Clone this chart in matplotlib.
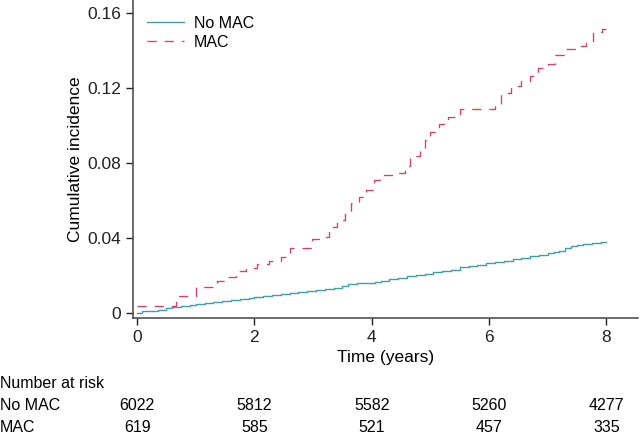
import matplotlib
matplotlib.use("Agg")
import matplotlib.pyplot as plt
from matplotlib.transforms import blended_transform_factory

plt.rcParams["font.family"] = ["Liberation Sans", "DejaVu Sans"]

# No MAC: cumulative incidence steps (time in years, value)
nomac_t = [0.0, 0.08, 0.2, 0.35, 0.5, 0.6, 0.75, 0.9, 1.0, 1.15, 1.3, 1.45, 1.6, 1.75,
           1.9, 2.0, 2.15, 2.3, 2.45, 2.6, 2.75, 2.9, 3.05, 3.2, 3.35, 3.5, 3.6, 3.75,
           3.9, 4.05, 4.15, 4.3, 4.45, 4.6, 4.75, 4.9, 5.05, 5.2, 5.35, 5.5, 5.65, 5.8,
           5.95, 6.1, 6.25, 6.4, 6.55, 6.7, 6.85, 7.0, 7.1, 7.2, 7.3, 7.4, 7.5, 7.6,
           7.75, 7.9, 8.0]
nomac_v = [0.0, 0.0009, 0.0011, 0.0013, 0.0022, 0.0028, 0.0034, 0.004, 0.0048, 0.0053,
           0.0058, 0.0063, 0.0068, 0.0072, 0.0077, 0.0082, 0.0087, 0.0093, 0.01, 0.0106,
           0.011, 0.0116, 0.0122, 0.0126, 0.0131, 0.0143, 0.0153, 0.0156, 0.016,
           0.0164, 0.0168, 0.018, 0.0186, 0.0194, 0.0201, 0.0208, 0.0216, 0.0223, 0.023,
           0.0241, 0.025, 0.0256, 0.0263, 0.027, 0.0277, 0.0285, 0.0293, 0.0301,
           0.0308, 0.0316, 0.0323, 0.0331, 0.0343, 0.0354, 0.036, 0.0366, 0.037,
           0.0376, 0.0378]

# MAC: cumulative incidence steps
mac_t = [0.0, 0.66, 1.0, 1.36, 1.52, 1.68, 1.85, 2.04, 2.25, 2.45, 2.6, 2.98, 3.2,
         3.27, 3.4, 3.55, 3.64, 3.78, 3.9, 4.03, 4.17, 4.4, 4.57, 4.66, 4.83, 4.9,
         5.0, 5.14, 5.3, 5.5, 6.1, 6.2, 6.37, 6.54, 6.7, 6.84, 7.0, 7.13, 7.3, 7.49,
         7.66, 7.78, 7.92, 8.0]
mac_v = [0.0035, 0.0088, 0.0137, 0.017, 0.0192, 0.0222, 0.0238, 0.0262, 0.0278, 0.0295,
         0.0345, 0.0392, 0.0405, 0.0455, 0.0495, 0.0535, 0.0585, 0.0615, 0.0655, 0.071,
         0.0735, 0.0745, 0.0785, 0.0835, 0.087, 0.092, 0.0965, 0.1005, 0.1045, 0.1085,
         0.1115, 0.1175, 0.121, 0.1235, 0.1265, 0.1305, 0.133, 0.1375, 0.141, 0.1425,
         0.1443, 0.15, 0.1517, 0.1517]

risk_times = [0, 2, 4, 6, 8]
risk_nomac = [6022, 5812, 5582, 5260, 4277]
risk_mac = [619, 585, 521, 457, 335]

teal = "#3f9ea8"
red = "#d83f62"

fig = plt.figure(figsize=(6.4, 4.33), dpi=100)
ax = fig.add_axes([0.208, 0.266, 0.789, 0.734])

ax.step(nomac_t, nomac_v, where="post", color=teal, lw=1.0, label="No MAC")
ax.step(mac_t, mac_v, where="post", color=red, lw=0.95, dashes=(7, 6), label="MAC")

ax.set_xlim(-0.068, 8.54)
ax.set_ylim(-0.0028, 0.167)
ax.set_xticks([0, 2, 4, 6, 8])
ax.set_yticks([0, 0.04, 0.08, 0.12, 0.16])
ax.set_yticklabels(["0", "0.04", "0.08", "0.12", "0.16"])
ax.tick_params(direction="out", length=5, width=1, labelsize=12.5, colors="#222222")
for s in ["top", "right"]:
    ax.spines[s].set_visible(False)
for s in ["left", "bottom"]:
    ax.spines[s].set_color("#444444")
    ax.spines[s].set_linewidth(1.1)

ax.set_xlabel("Time (years)", fontsize=12.5, labelpad=4)
ax.set_ylabel("Cumulative incidence", fontsize=12.5, labelpad=3)

ax.legend(loc="upper left", bbox_to_anchor=(0.0, 0.995), frameon=False, fontsize=11.5,
          handlelength=2.3, handletextpad=0.6, labelspacing=0.25)

# number at risk table
tr = blended_transform_factory(ax.transData, fig.transFigure)
fs = 11.5
fig.text(0.0, 1 - 383 / 433, "Number at risk", fontsize=fs, va="center", ha="left")
fig.text(0.0, 1 - 406 / 433, "No MAC", fontsize=fs, va="center", ha="left")
fig.text(0.0, 1 - 427 / 433, "MAC", fontsize=fs, va="center", ha="left")
for t, n1, n2 in zip(risk_times, risk_nomac, risk_mac):
    ax.text(t, 1 - 406 / 433, str(n1), transform=tr, fontsize=fs, ha="center", va="center")
    ax.text(t, 1 - 427 / 433, str(n2), transform=tr, fontsize=fs, ha="center", va="center")

fig.savefig("out.png", dpi=100)
